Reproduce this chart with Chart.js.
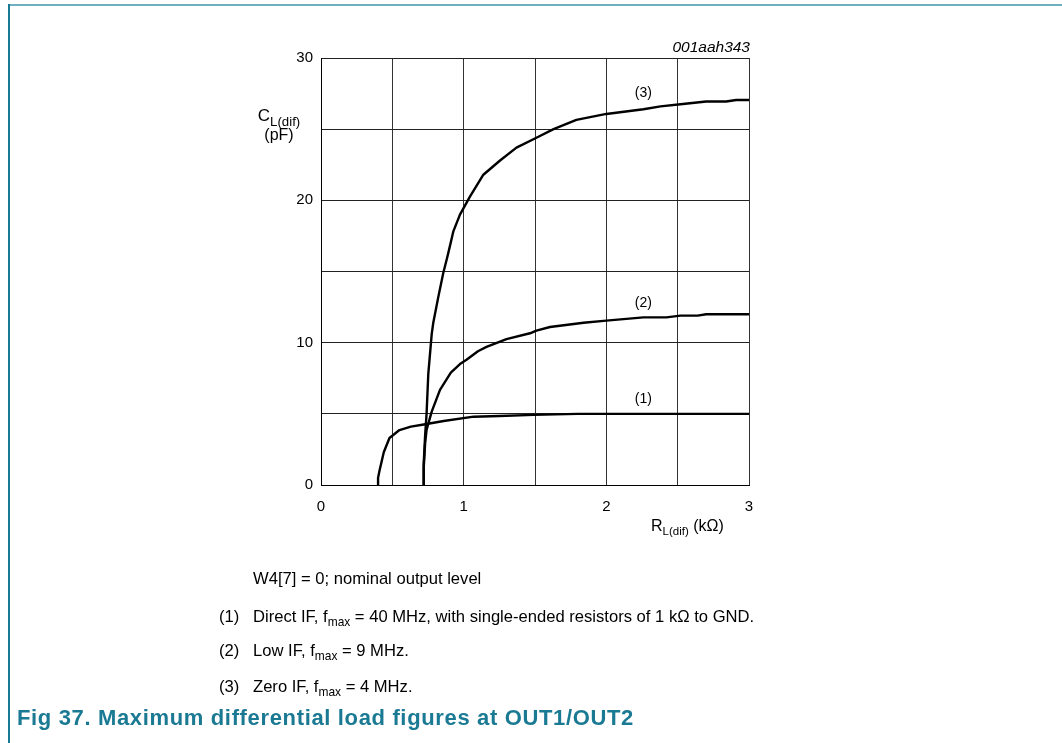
<!DOCTYPE html>
<html>
<head>
<meta charset="utf-8">
<script src="https://cdn.jsdelivr.net/npm/chart.js@4/dist/chart.umd.min.js"></script>
<style>
  html, body { margin: 0; padding: 0; background: #fff; }
  body { width: 1062px; height: 743px; position: relative; overflow: hidden;
         font-family: "Liberation Sans", Arial, sans-serif; color: #000; }
  #chartBox { position: absolute; left: 0; top: 0; width: 1062px; height: 743px; }
  .frameTop { position: absolute; left: 9px; top: 4px; width: 1053px; height: 2px; background: #6fb0c0; }
  .frameLeft { position: absolute; left: 8px; top: 4px; width: 2px; height: 739px; background: #1b7a93; }
  .txt { position: absolute; white-space: nowrap; }
  sub { font-size: 72%; vertical-align: -0.35em; line-height: 0; }
  .note { font-size: 16.6px; }
  .caption { font-size: 22px; letter-spacing: 0.65px; font-weight: bold; color: #1b7a93; }
</style>
</head>
<body>
<div class="frameTop"></div>
<div class="frameLeft"></div>
<div id="chartBox"><canvas id="myChart" width="1062" height="743"></canvas></div>

<div class="txt" style="left:630px; top:38px; width:120px; text-align:right; font-style:italic; font-size:15.5px;">001aah343</div>
<div class="txt" style="left:246px; top:106px; width:66px; text-align:center; font-size:16px; line-height:19px;"><span style="font-size:17px;">C<sub style="font-size:78%;">L(dif)</sub></span><br>(pF)</div>
<div class="txt" style="left:651px; top:517px; font-size:16px;">R<sub>L(dif)</sub> (k&Omega;)</div>

<div class="txt note" style="left:253px; top:569px;">W4[7] = 0; nominal output level</div>
<div class="txt note" style="left:219px; top:607px;">(1)</div>
<div class="txt note" style="left:253px; top:607px;">Direct IF, f<sub>max</sub> = 40 MHz, with single-ended resistors of 1 k&Omega; to GND.</div>
<div class="txt note" style="left:219px; top:641px;">(2)</div>
<div class="txt note" style="left:253px; top:641px;">Low IF, f<sub>max</sub> = 9 MHz.</div>
<div class="txt note" style="left:219px; top:677px;">(3)</div>
<div class="txt note" style="left:253px; top:677px;">Zero IF, f<sub>max</sub> = 4 MHz.</div>
<div class="txt caption" style="left:17px; top:705px;">Fig 37. Maximum differential load figures at OUT1/OUT2</div>

<script>
// R_L(dif) in kOhm, C_L(dif) in pF
var curve1_x = [0.40, 0.40, 0.41, 0.44, 0.48, 0.55, 0.63, 0.72, 0.86, 1.07, 1.25, 1.49, 1.80, 2.20, 2.60, 3.00];
var curve1_y = [0.0, 0.5, 1.0, 2.3, 3.3, 3.86, 4.1, 4.25, 4.5, 4.8, 4.85, 4.93, 5.0, 5.0, 5.0, 5.0];

var curve2_x = [0.715, 0.72, 0.73, 0.74, 0.776, 0.834, 0.91, 0.974, 1.02, 1.10, 1.16, 1.30, 1.465, 1.51, 1.605, 1.84, 2.00, 2.26, 2.42, 2.52, 2.64, 2.70, 3.00];
var curve2_y = [0.0, 1.2, 2.95, 3.87, 5.15, 6.68, 7.9, 8.5, 8.8, 9.4, 9.7, 10.25, 10.66, 10.85, 11.1, 11.4, 11.55, 11.78, 11.78, 11.9, 11.9, 12.0, 12.0];

var curve3_x = [0.715, 0.72, 0.73, 0.74, 0.752, 0.776, 0.787, 0.822, 0.857, 0.885, 0.904, 0.927, 0.974, 1.044, 1.138, 1.255, 1.37, 1.51, 1.63, 1.79, 2.00, 2.26, 2.38, 2.52, 2.70, 2.84, 2.91, 3.00];
var curve3_y = [0.0, 1.5, 3.5, 5.0, 7.8, 10.6, 11.4, 13.2, 14.9, 16.0, 16.8, 17.8, 19.0, 20.26, 21.8, 22.8, 23.7, 24.4, 25.0, 25.65, 26.07, 26.4, 26.6, 26.75, 26.94, 26.94, 27.05, 27.05];

var curve_names = ['(1)', '(2)', '(3)'];
var label_x = [2.26, 2.26, 2.26];
var label_y = [6.05, 12.8, 27.55];

var x_ticks = [0, 1, 2, 3];
var y_ticks = [0, 10, 20, 30];

function toPoints(xs, ys) {
    var pts = [];
    for (var i = 0; i < xs.length; i++) pts.push({x: xs[i], y: ys[i]});
    return pts;
}

var curveLabels = {
    id: 'curveLabels',
    afterDatasetsDraw: function(chart) {
        var c = chart.ctx;
        c.save();
        c.font = '14px "Liberation Sans", Arial, sans-serif';
        c.fillStyle = '#000';
        c.textAlign = 'center';
        c.textBaseline = 'middle';
        for (var i = 0; i < curve_names.length; i++) {
            c.fillText(curve_names[i], chart.scales.x.getPixelForValue(label_x[i]), chart.scales.y.getPixelForValue(label_y[i]));
        }
        c.restore();
    }
};

var lineStyle = { borderColor: '#000', borderWidth: 2.4, pointRadius: 0, fill: false, tension: 0, borderJoinStyle: 'round' };

var ctx = document.getElementById('myChart').getContext('2d');
var myChart = new Chart(ctx, {
    type: 'line',
    data: {
        datasets: [
            Object.assign({ label: curve_names[0], data: toPoints(curve1_x, curve1_y) }, lineStyle),
            Object.assign({ label: curve_names[1], data: toPoints(curve2_x, curve2_y) }, lineStyle),
            Object.assign({ label: curve_names[2], data: toPoints(curve3_x, curve3_y) }, lineStyle)
        ]
    },
    options: {
        responsive: false,
        animation: false,
        events: [],
        layout: { padding: { left: 281, top: 58, right: 313, bottom: 218 } },
        plugins: { legend: { display: false }, tooltip: { enabled: false } },
        scales: {
            x: {
                type: 'linear', min: 0, max: 3,
                afterFit: function(s) { s.height = 40; },
                afterBuildTicks: function(s) { s.ticks = [0, 0.5, 1, 1.5, 2, 2.5, 3].map(function(v) { return {value: v}; }); },
                ticks: {
                    color: '#000', padding: 13, maxRotation: 0, autoSkip: false,
                    font: { family: '"Liberation Sans", Arial, sans-serif', size: 15 },
                    callback: function(v) { return x_ticks.indexOf(v) >= 0 ? String(v) : ''; }
                },
                grid: { color: '#333', lineWidth: 1, drawTicks: false },
                border: { color: '#000', width: 1 }
            },
            y: {
                type: 'linear', min: 0, max: 30,
                afterFit: function(s) { s.width = 40; },
                afterBuildTicks: function(s) { s.ticks = [0, 5, 10, 15, 20, 25, 30].map(function(v) { return {value: v}; }); },
                ticks: {
                    color: '#000', padding: 8, autoSkip: false,
                    font: { family: '"Liberation Sans", Arial, sans-serif', size: 15 },
                    callback: function(v) { return y_ticks.indexOf(v) >= 0 ? String(v) : ''; }
                },
                grid: { color: '#222', lineWidth: 1, drawTicks: false },
                border: { color: '#000', width: 1 }
            }
        }
    },
    plugins: [curveLabels]
});
</script>
</body>
</html>
